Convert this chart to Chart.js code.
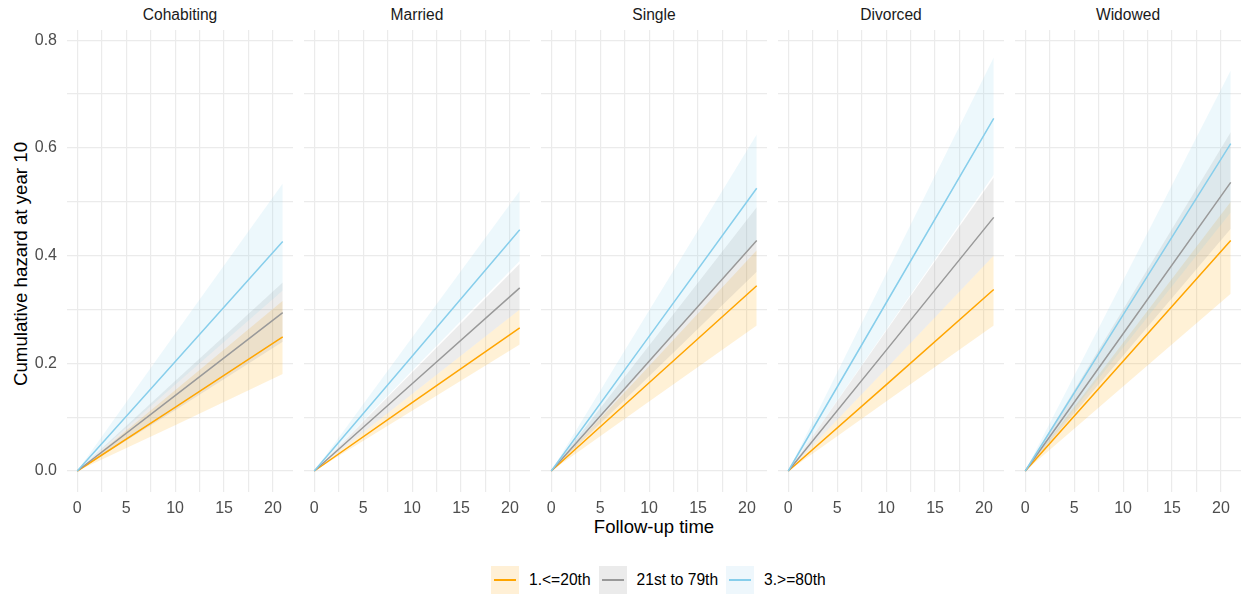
<!DOCTYPE html>
<html>
<head>
<meta charset="utf-8">
<script src="https://cdn.jsdelivr.net/npm/chart.js@4.4.1/dist/chart.umd.min.js"></script>
<style>
  html, body { margin: 0; padding: 0; background: #ffffff; }
  body { width: 1241px; height: 594px; position: relative; overflow: hidden; font-family: "Liberation Sans", Arial, sans-serif; }
  .panel { position: absolute; top: 30px; height: 492px; }
  .strip { position: absolute; top: 15px; width: 226px; text-align: center; font-size: 15.6px; color: #1a1a1a; transform: translateY(-50%); line-height: 1; }
  .ytitle { position: absolute; left: 21px; top: 264px; transform: translate(-50%, -50%) rotate(-90deg); font-size: 18.7px; color: #000; white-space: nowrap; line-height: 1; }
  .xtitle { position: absolute; left: 654px; top: 527px; transform: translate(-50%, -50%); font-size: 18.5px; color: #000; white-space: nowrap; line-height: 1; }
  .legend { position: absolute; top: 566px; left: 491px; height: 28px; display: flex; align-items: center; font-size: 15.6px; color: #000; }
  .key { width: 28px; height: 28px; position: relative; }
  .key span { position: absolute; left: 3px; right: 3px; top: 13px; height: 1.6px; }
  .lab { margin-left: 10px; margin-right: 8px; white-space: nowrap; }
</style>
</head>
<body>
<script>
// ---- data ----
const panels = ["Cohabiting", "Married", "Single", "Divorced", "Widowed"];
const groups = ["1.<=20th", "21st to 79th", "3.>=80th"];
const time = [0, 10, 21];
const xTicks = [0, 5, 10, 15, 20];
const yTicks = [0.0, 0.2, 0.4, 0.6, 0.8];

// estimate / lower / upper per panel, group order: low, mid, high
const lowEst = [[0,0.118,0.249],[0,0.127,0.266],[0,0.164,0.344],[0,0.160,0.337],[0,0.204,0.428]];
const lowLo  = [[0,0.085,0.180],[0,0.112,0.235],[0,0.129,0.270],[0,0.129,0.270],[0,0.157,0.329]];
const lowHi  = [[0,0.150,0.316],[0,0.143,0.300],[0,0.195,0.410],[0,0.190,0.400],[0,0.238,0.500]];
const midEst = [[0,0.140,0.294],[0,0.162,0.340],[0,0.204,0.428],[0,0.224,0.471],[0,0.255,0.536]];
const midLo  = [[0,0.113,0.240],[0,0.143,0.300],[0,0.176,0.370],[0,0.190,0.400],[0,0.214,0.450]];
const midHi  = [[0,0.167,0.350],[0,0.183,0.385],[0,0.233,0.490],[0,0.260,0.545],[0,0.300,0.629]];
const highEst= [[0,0.203,0.426],[0,0.213,0.448],[0,0.250,0.525],[0,0.312,0.655],[0,0.290,0.608]];
const highLo = [[0,0.160,0.335],[0,0.186,0.390],[0,0.205,0.430],[0,0.262,0.550],[0,0.229,0.480]];
const highHi = [[0,0.255,0.534],[0,0.248,0.520],[0,0.298,0.625],[0,0.366,0.768],[0,0.354,0.744]];

const lineColors = ["#FFA500", "#999999", "#87CEEB"];
const fillColors = ["rgba(255,165,0,0.16)", "rgba(128,128,128,0.15)", "rgba(135,206,235,0.15)"];

const X_MIN = -1.05, X_MAX = 22.05, Y_MIN = -0.039, Y_MAX = 0.819;
const PANEL_W = 226, PANEL_STEP = 237, FIRST_LEFT = 67;

function pts(arr) { return time.map((t, i) => ({ x: t, y: arr[i] })); }

// titles
const yt = document.createElement('div'); yt.className = 'ytitle'; yt.textContent = 'Cumulative hazard at year 10'; document.body.appendChild(yt);
const xt = document.createElement('div'); xt.className = 'xtitle'; xt.textContent = 'Follow-up time'; document.body.appendChild(xt);

// legend
const leg = document.createElement('div'); leg.className = 'legend';
const keyBg = ["#FFF0D6", "#EBEBEB", "#EEF7FC"];
groups.forEach((g, i) => {
  const k = document.createElement('div'); k.className = 'key'; k.style.background = keyBg[i];
  const s = document.createElement('span'); s.style.background = lineColors[i]; k.appendChild(s);
  const l = document.createElement('div'); l.className = 'lab'; l.textContent = g;
  leg.appendChild(k); leg.appendChild(l);
});
document.body.appendChild(leg);

Chart.defaults.font.family = '"Liberation Sans", Arial, sans-serif';
Chart.defaults.animation = false;

panels.forEach((name, p) => {
  const first = p === 0;
  const areaLeft = FIRST_LEFT + PANEL_STEP * p;
  const div = document.createElement('div');
  div.className = 'panel';
  div.style.left = (first ? 0 : areaLeft) + 'px';
  div.style.width = (first ? areaLeft + PANEL_W : PANEL_W) + 'px';
  const cv = document.createElement('canvas');
  div.appendChild(cv);
  document.body.appendChild(div);

  const st = document.createElement('div'); st.className = 'strip';
  st.style.left = areaLeft + 'px'; st.textContent = name; document.body.appendChild(st);

  const est = [lowEst[p], midEst[p], highEst[p]];
  const lo = [lowLo[p], midLo[p], highLo[p]];
  const hi = [lowHi[p], midHi[p], highHi[p]];

  const datasets = [];
  // lines (drawn on top)
  for (let g = 2; g >= 0; g--) {
    datasets.push({ label: groups[g], data: pts(est[g]), borderColor: lineColors[g], borderWidth: 1.5,
      pointRadius: 0, fill: false, tension: 0 });
  }
  // ribbons
  for (let g = 2; g >= 0; g--) {
    datasets.push({ label: groups[g] + ' hi', data: pts(hi[g]), borderWidth: 0, borderColor: 'rgba(0,0,0,0)',
      backgroundColor: fillColors[g], pointRadius: 0, fill: '+1', tension: 0 });
    datasets.push({ label: groups[g] + ' lo', data: pts(lo[g]), borderWidth: 0, borderColor: 'rgba(0,0,0,0)',
      pointRadius: 0, fill: false, tension: 0 });
  }

  new Chart(cv, {
    type: 'line',
    data: { datasets },
    options: {
      responsive: true, maintainAspectRatio: false, animation: false,
      layout: { padding: 0 },
      plugins: { legend: { display: false }, tooltip: { enabled: false }, filler: { drawTime: 'beforeDatasetsDraw' } },
      scales: {
        x: {
          type: 'linear', min: X_MIN, max: X_MAX,
          afterBuildTicks: (s) => { s.ticks = [0, 2.5, 5, 7.5, 10, 12.5, 15, 17.5, 20].map(v => ({ value: v })); },
          afterFit: (s) => { s.height = 30; s.paddingLeft = 0; s.paddingRight = 0; },
          grid: { color: '#EBEBEB', lineWidth: 1.2, drawTicks: false },
          border: { display: false },
          ticks: { padding: 7, color: '#4D4D4D', font: { size: 16 }, maxRotation: 0, autoSkip: false,
            callback: (v) => xTicks.includes(v) ? String(v) : '' }
        },
        y: {
          type: 'linear', min: Y_MIN, max: Y_MAX,
          afterBuildTicks: (s) => { s.ticks = [0, 0.1, 0.2, 0.3, 0.4, 0.5, 0.6, 0.7, 0.8].map(v => ({ value: v })); },
          afterFit: (s) => { s.width = first ? FIRST_LEFT : 0; s.paddingTop = 0; s.paddingBottom = 0; },
          grid: { color: '#EBEBEB', lineWidth: 1.2, drawTicks: false },
          border: { display: false },
          ticks: { display: first, padding: 10, color: '#4D4D4D', font: { size: 16 }, autoSkip: false,
            callback: (v) => { const m = yTicks.find(t => Math.abs(t - v) < 1e-9); return m === undefined ? '' : m.toFixed(1); } }
        }
      }
    }
  });
});
</script>
</body>
</html>
